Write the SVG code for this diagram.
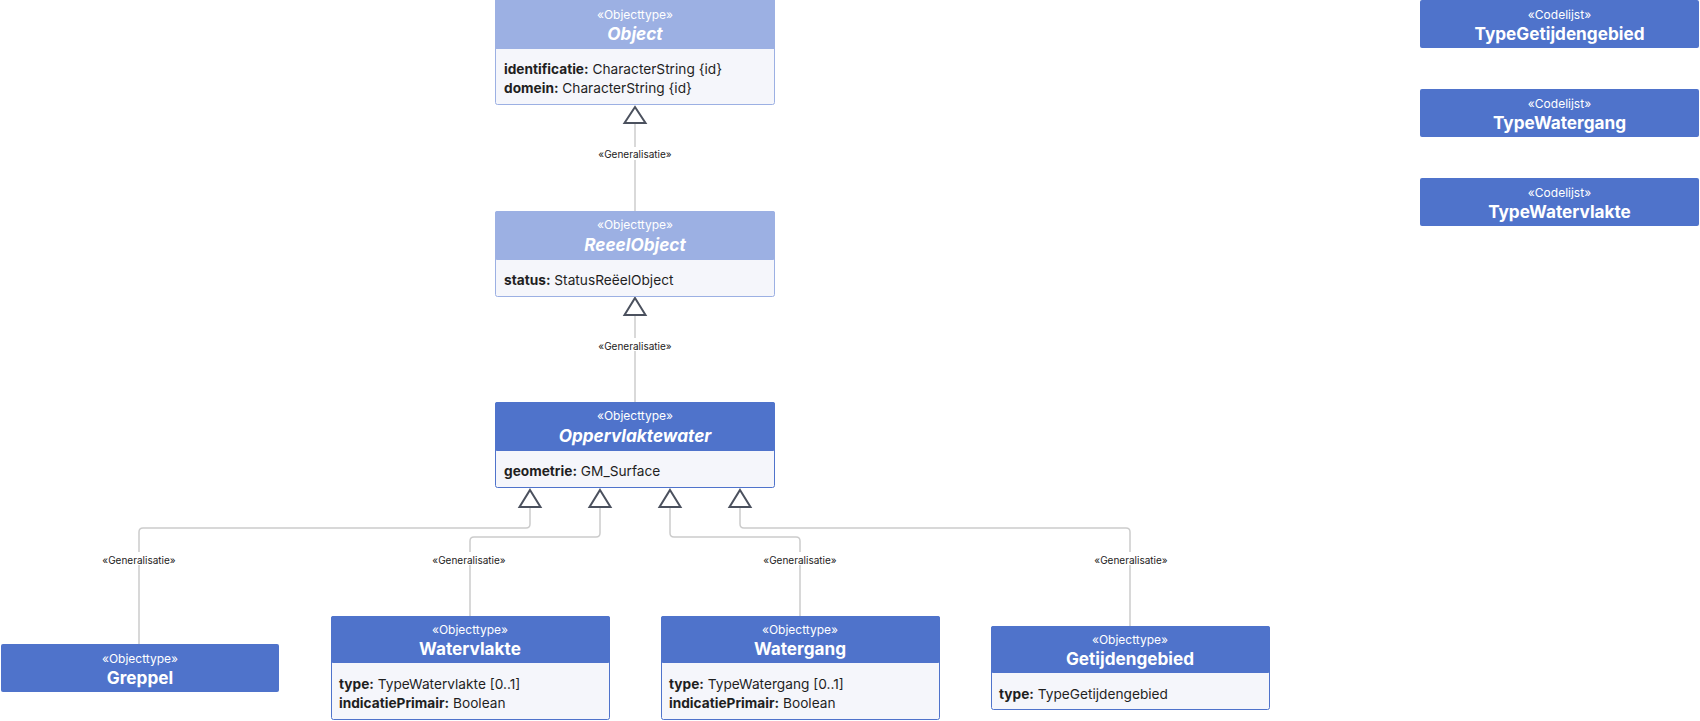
<svg xmlns="http://www.w3.org/2000/svg" width="1700" height="721" viewBox="0 0 1700 721">
<style>
.hdr{fill:#4f73cb}
.hdrA{fill:#9cb0e3}
.body{fill:#f5f6fb;stroke:#4f73cb;stroke-width:1}
.bodyA{fill:#f5f6fb;stroke:#9cb0e3;stroke-width:1}
.st{font-family:Inter,"Liberation Sans",sans-serif;font-size:12px;fill:#ffffff;text-anchor:middle;dominant-baseline:central}
.ti{font-family:Inter,"Liberation Sans",sans-serif;font-size:17.2px;font-weight:700;fill:#ffffff;text-anchor:middle;dominant-baseline:central}
.it{font-style:italic}
.at{font-family:Inter,"Liberation Sans",sans-serif;font-size:13.7px;fill:#1f1f1f;dominant-baseline:central}
.at tspan.b{font-weight:700}
.ln{fill:none;stroke:#cccccc;stroke-width:1.5}
.tri{fill:#ffffff;stroke:#4b515e;stroke-width:2;stroke-linejoin:miter}
.lb{font-family:Inter,"Liberation Sans",sans-serif;font-size:10px;fill:#222222;text-anchor:middle;dominant-baseline:central}
.lbbg{fill:#ffffff}
</style>
<rect width="1700" height="721" fill="#ffffff"/>

<g id="connectors">
  <path class="ln" d="M635 211 V122"/>
  <path class="ln" d="M635 402 V315"/>
  <path class="ln" d="M139 644 V532 Q139 528 143 528 H526 Q530 528 530 524 V507"/>
  <path class="ln" d="M470 616 V541 Q470 537 474 537 H596 Q600 537 600 533 V507"/>
  <path class="ln" d="M800 616 V541 Q800 537 796 537 H674 Q670 537 670 533 V507"/>
  <path class="ln" d="M1130 626 V532 Q1130 528 1126 528 H744 Q740 528 740 524 V507"/>
  <rect class="lbbg" x="598" y="147" width="74" height="13"/>
  <text class="lb" x="635" y="154">«Generalisatie»</text>
  <rect class="lbbg" x="598" y="338" width="74" height="13"/>
  <text class="lb" x="635" y="346">«Generalisatie»</text>
  <rect class="lbbg" x="102" y="552" width="74" height="13"/>
  <text class="lb" x="139" y="560">«Generalisatie»</text>
  <rect class="lbbg" x="432" y="552" width="74" height="13"/>
  <text class="lb" x="469" y="560">«Generalisatie»</text>
  <rect class="lbbg" x="763" y="552" width="74" height="13"/>
  <text class="lb" x="800" y="560">«Generalisatie»</text>
  <rect class="lbbg" x="1094" y="552" width="74" height="13"/>
  <text class="lb" x="1131" y="560">«Generalisatie»</text>
  <path class="tri" d="M635 107 L645.5 123 H624.5 Z"/>
  <path class="tri" d="M635 298 L645.5 315 H624.5 Z"/>
  <path class="tri" d="M530 490 L540.5 507 H519.5 Z"/>
  <path class="tri" d="M600 490 L610.5 507 H589.5 Z"/>
  <path class="tri" d="M670 490 L680.5 507 H659.5 Z"/>
  <path class="tri" d="M740 490 L750.5 507 H729.5 Z"/>
</g>

<g id="Object">
  <rect class="bodyA" x="495.5" y="0.5" width="279" height="104" rx="2"/>
  <rect class="hdrA" x="495" y="0" width="280" height="49"/>
  <text class="st" x="635" y="14">«Objecttype»</text>
  <text class="ti it" x="635" y="33.5">Object</text>
  <text class="at" x="504" y="68.5"><tspan class="b">identificatie:</tspan> CharacterString {id}</text>
  <text class="at" x="504" y="87.5"><tspan class="b">domein:</tspan> CharacterString {id}</text>
</g>

<g id="ReeelObject">
  <rect class="bodyA" x="495.5" y="211.5" width="279" height="85" rx="2"/>
  <rect class="hdrA" x="495" y="211" width="280" height="49" rx="2"/>
  <text class="st" x="635" y="224.5">«Objecttype»</text>
  <text class="ti it" x="635" y="244.5">ReeelObject</text>
  <text class="at" x="504" y="280"><tspan class="b">status:</tspan> StatusReëelObject</text>
</g>

<g id="Oppervlaktewater">
  <rect class="body" x="495.5" y="402.5" width="279" height="85" rx="2"/>
  <rect class="hdr" x="495" y="402" width="280" height="49" rx="2"/>
  <text class="st" x="635" y="415.5">«Objecttype»</text>
  <text class="ti it" x="635" y="435.5">Oppervlaktewater</text>
  <text class="at" x="504" y="470.5"><tspan class="b">geometrie:</tspan> GM_Surface</text>
</g>

<g id="Greppel">
  <rect class="hdr" x="1" y="644" width="278" height="48" rx="2"/>
  <text class="st" x="140" y="658.5">«Objecttype»</text>
  <text class="ti" x="140" y="677.5">Greppel</text>
</g>

<g id="Watervlakte">
  <rect class="body" x="331.5" y="616.5" width="278" height="103" rx="2"/>
  <rect class="hdr" x="331" y="616" width="279" height="47" rx="2"/>
  <text class="st" x="470" y="629.5">«Objecttype»</text>
  <text class="ti" x="470" y="648.5">Watervlakte</text>
  <text class="at" x="339" y="683.5"><tspan class="b">type:</tspan> TypeWatervlakte [0..1]</text>
  <text class="at" x="339" y="702.5"><tspan class="b">indicatiePrimair:</tspan> Boolean</text>
</g>

<g id="Watergang">
  <rect class="body" x="661.5" y="616.5" width="278" height="103" rx="2"/>
  <rect class="hdr" x="661" y="616" width="279" height="47" rx="2"/>
  <text class="st" x="800" y="629.5">«Objecttype»</text>
  <text class="ti" x="800" y="648.5">Watergang</text>
  <text class="at" x="669" y="683.5"><tspan class="b">type:</tspan> TypeWatergang [0..1]</text>
  <text class="at" x="669" y="702.5"><tspan class="b">indicatiePrimair:</tspan> Boolean</text>
</g>

<g id="Getijdengebied">
  <rect class="body" x="991.5" y="626.5" width="278" height="83" rx="2"/>
  <rect class="hdr" x="991" y="626" width="279" height="47" rx="2"/>
  <text class="st" x="1130" y="639.5">«Objecttype»</text>
  <text class="ti" x="1130" y="658.5">Getijdengebied</text>
  <text class="at" x="999" y="693.5"><tspan class="b">type:</tspan> TypeGetijdengebied</text>
</g>

<g id="TypeGetijdengebied">
  <rect class="hdr" x="1420" y="0" width="279" height="48" rx="2"/>
  <text class="st" x="1559.5" y="14.5">«Codelijst»</text>
  <text class="ti" x="1559.5" y="33.5">TypeGetijdengebied</text>
</g>

<g id="TypeWatergang">
  <rect class="hdr" x="1420" y="89" width="279" height="48" rx="2"/>
  <text class="st" x="1559.5" y="103.5">«Codelijst»</text>
  <text class="ti" x="1559.5" y="122.5">TypeWatergang</text>
</g>

<g id="TypeWatervlakte">
  <rect class="hdr" x="1420" y="178" width="279" height="48" rx="2"/>
  <text class="st" x="1559.5" y="192.5">«Codelijst»</text>
  <text class="ti" x="1559.5" y="211.5">TypeWatervlakte</text>
</g>
</svg>
